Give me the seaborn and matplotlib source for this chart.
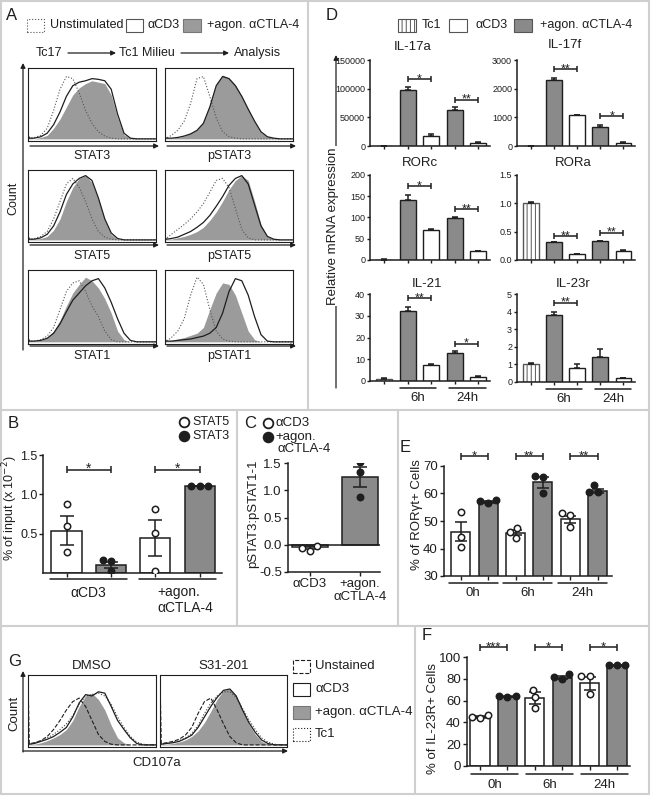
import numpy as np
import pandas as pd
import matplotlib
matplotlib.use("Agg")
import matplotlib.pyplot as plt
import seaborn as sns
from matplotlib.patches import Rectangle, FancyArrowPatch
from matplotlib.lines import Line2D
from matplotlib.transforms import offset_copy

# ---------------- data ----------------
# flow histograms: fluorescence bins (0..1) and counts in % of max
hist_x = [0.0, 0.01, 0.05, 0.10, 0.15, 0.20, 0.25, 0.30, 0.35, 0.40, 0.45,
          0.50, 0.55, 0.60, 0.65, 0.70, 0.75, 0.80, 0.85, 0.90, 0.95, 1.0]

stat3_unstim = [6, 1, 2, 5, 15, 40, 70, 88, 85, 65, 40, 22, 10, 4, 1, 0, 0, 0, 0, 0, 0, 0]
stat3_cd3 = [6, 1, 1, 3, 8, 20, 38, 60, 75, 80, 82, 85, 84, 82, 70, 35, 8, 1, 0, 0, 0, 0]
stat3_agon = [6, 1, 0, 2, 5, 15, 28, 45, 62, 72, 78, 82, 80, 78, 62, 30, 6, 1, 0, 0, 0, 0]
pstat3_unstim = [3, 1, 5, 12, 25, 50, 85, 88, 60, 30, 10, 3, 1, 0, 0, 0, 0, 0, 0, 0, 0, 0]
pstat3_cd3 = [3, 1, 1, 2, 4, 7, 12, 22, 45, 75, 88, 85, 75, 60, 42, 25, 10, 3, 1, 0, 0, 0]
pstat3_agon = [3, 1, 1, 2, 4, 8, 13, 24, 47, 77, 90, 86, 76, 60, 42, 24, 9, 3, 1, 0, 0, 0]
stat5_unstim = [6, 1, 2, 5, 12, 30, 55, 80, 88, 75, 55, 30, 12, 4, 1, 0, 0, 0, 0, 0, 0, 0]
stat5_cd3 = [6, 1, 1, 3, 8, 20, 40, 65, 80, 88, 92, 85, 60, 30, 10, 2, 0, 0, 0, 0, 0, 0]
stat5_agon = [6, 1, 1, 2, 5, 14, 30, 55, 75, 88, 92, 82, 58, 28, 8, 1, 0, 0, 0, 0, 0, 0]
pstat5_unstim = [4, 2, 8, 15, 22, 30, 40, 52, 68, 85, 88, 75, 45, 15, 3, 0, 0, 0, 0, 0, 0, 0]
pstat5_cd3 = [4, 1, 2, 4, 8, 12, 18, 25, 35, 48, 62, 78, 88, 92, 80, 50, 20, 5, 1, 0, 0, 0]
pstat5_agon = [4, 1, 1, 3, 5, 8, 12, 18, 28, 40, 55, 72, 85, 92, 85, 55, 22, 5, 1, 0, 0, 0]
stat1_unstim = [6, 1, 1, 3, 8, 20, 45, 70, 82, 85, 70, 50, 35, 15, 3, 0, 0, 0, 0, 0, 0, 0]
stat1_cd3 = [6, 1, 1, 2, 5, 12, 25, 42, 58, 68, 78, 85, 88, 75, 55, 32, 12, 2, 0, 0, 0, 0]
stat1_agon = [6, 1, 1, 2, 6, 15, 30, 50, 68, 80, 90, 85, 75, 60, 40, 15, 3, 0, 0, 0, 0, 0]
pstat1_unstim = [4, 1, 6, 15, 32, 65, 90, 80, 45, 15, 4, 1, 0, 0, 0, 0, 0, 0, 0, 0, 0, 0]
pstat1_cd3 = [4, 1, 1, 2, 3, 4, 6, 8, 12, 20, 40, 70, 88, 85, 65, 35, 10, 1, 0, 0, 0, 0]
pstat1_agon = [4, 1, 2, 4, 6, 9, 12, 20, 45, 68, 82, 80, 65, 40, 15, 3, 0, 0, 0, 0, 0, 0]

dmso_unstained = [100, 2, 3, 6, 12, 22, 35, 50, 62, 67, 55, 35, 15, 5, 1, 0, 0, 0, 0, 0, 0, 0]
dmso_cd3 = [2, 1, 2, 5, 8, 12, 18, 25, 40, 60, 72, 70, 76, 74, 55, 35, 22, 10, 2, 0, 0, 0]
dmso_agon = [2, 1, 1, 3, 6, 10, 15, 22, 35, 55, 70, 74, 65, 50, 28, 10, 3, 0, 0, 0, 0, 0]
dmso_tc1 = [2, 1, 3, 6, 10, 15, 22, 30, 42, 58, 70, 72, 74, 70, 58, 40, 25, 12, 4, 1, 0, 0]
s31_unstained = [100, 2, 3, 5, 8, 14, 25, 45, 62, 67, 50, 30, 12, 3, 0, 0, 0, 0, 0, 0, 0, 0]
s31_cd3 = [2, 1, 2, 3, 5, 9, 14, 25, 40, 55, 68, 78, 80, 70, 50, 32, 18, 7, 2, 0, 0, 0]
s31_agon = [2, 1, 1, 2, 4, 7, 12, 20, 32, 48, 65, 78, 80, 70, 50, 30, 15, 5, 1, 0, 0, 0]
s31_tc1 = [2, 1, 2, 4, 6, 10, 16, 28, 45, 60, 70, 76, 76, 68, 52, 36, 22, 10, 4, 1, 0, 0]

# panel D: relative mRNA expression
d_groups = ["Tc1", "agon 6h", "aCD3 6h", "agon 24h", "aCD3 24h"]
il17a_mean = [300, 98000, 17000, 63000, 5000]
il17a_err = [0, 5500, 3500, 4500, 1200]
il17f_mean = [5, 2300, 1080, 660, 110]
il17f_err = [0, 80, 0, 80, 20]
rorc_mean = [1, 140, 70, 98, 22]
rorc_err = [0.5, 12, 3, 4, 0]
rora_mean = [1.0, 0.31, 0.10, 0.33, 0.16]
rora_err = [0.03, 0.01, 0.0, 0.01, 0.01]
il21_mean = [1.0, 32, 7.5, 12.8, 1.8]
il21_err = [0.3, 2.2, 0.5, 0.8, 0.6]
il23r_mean = [1.0, 3.8, 0.8, 1.4, 0.22]
il23r_err = [0.1, 0.15, 0.2, 0.45, 0.02]

# panel B: ChIP, % of input (x10^-2)
b_groups = ["aCD3 STAT5", "aCD3 STAT3", "agon STAT5", "agon STAT3"]
b_mean = [0.54, 0.10, 0.45, 1.10]
b_sem = [0.18, 0.04, 0.23, 0.0]
b_stat5_points = {"aCD3 STAT5": [0.88, 0.60, 0.27], "agon STAT5": [0.81, 0.51, 0.02]}
b_stat3_points = {"aCD3 STAT3": [0.16, 0.15, 0.03], "agon STAT3": [1.10, 1.10, 1.10]}

# panel C: pSTAT3:pSTAT1 - 1
c_groups = ["aCD3", "agon"]
c_mean = [-0.05, 1.24]
c_sem = [0.02, 0.18]
c_cd3_points = [-0.02, -0.06, -0.11]
c_agon_points = [1.52, 1.33, 0.87]

# panels E / F: time course, white = aCD3, gray = +agon. aCTLA-4
t_groups = ["0h aCD3", "0h agon", "6h aCD3", "6h agon", "24h aCD3", "24h agon"]
e_mean = [46.1, 56.8, 45.8, 64.1, 50.6, 61.0]
e_sem = [3.5, 0.3, 1.0, 2.0, 1.4, 0.8]
e_points = [[53.3, 44.3, 40.7], [57.8, 57.2, 56.6], [47.5, 46.0, 44.0],
            [66.2, 66.0, 60.2], [52.8, 52.2, 48.0], [63.0, 60.6, 60.4]]
f_mean = [45.0, 63.5, 62.0, 81.0, 76.0, 92.4]
f_sem = [0.8, 0.4, 5.5, 1.3, 6.0, 0.2]
f_points = [[46.5, 45.0, 44.0], [64.5, 63.8, 63.2], [70.0, 63.0, 53.5],
            [84.0, 81.5, 79.5], [83.0, 83.0, 66.0], [92.5, 92.5, 92.5]]

# ---------------- style ----------------
sns.set_theme(style="ticks")
plt.rcParams["font.family"] = ["Liberation Sans", "DejaVu Sans"]
plt.rcParams["hatch.linewidth"] = 0.7
plt.rcParams["axes.linewidth"] = 1.0

INK = "#1e1e1e"
BARGRAY = "#8a8a8a"
HFILL = "#9b9b9b"
SEP = "#cfcfcf"

W, H = 652, 799
fig = plt.figure(figsize=(W / 100, H / 100), dpi=100)


def add_ax(x0, y0, x1, y1):
    return fig.add_axes([x0 / W, 1 - y1 / H, (x1 - x0) / W, (y1 - y0) / H])


def ftext(x, y, s, **kw):
    kw.setdefault("color", INK)
    return fig.text(x / W, 1 - y / H, s, **kw)


def fline(xs, ys, **kw):
    kw.setdefault("color", INK)
    fig.add_artist(Line2D([x / W for x in xs], [1 - y / H for y in ys],
                          transform=fig.transFigure, **kw))


def fbox(x0, y0, x1, y1, **kw):
    fig.add_artist(Rectangle((x0 / W, 1 - y1 / H), (x1 - x0) / W, (y1 - y0) / H,
                             transform=fig.transFigure, **kw))


def farrow(x0, y0, x1, y1, lw=0.9):
    fig.add_artist(FancyArrowPatch((x0 / W, 1 - y0 / H), (x1 / W, 1 - y1 / H),
                                   transform=fig.transFigure, arrowstyle="-|>",
                                   mutation_scale=7, lw=lw, color=INK,
                                   shrinkA=0, shrinkB=0))


def fmarker(x, y, filled):
    fig.add_artist(Line2D([x / W], [1 - y / H], transform=fig.transFigure,
                          marker="o", ms=7, mec=INK, mew=1.3,
                          mfc=INK if filled else "white", ls="none"))


# panel separators
fbox(1, 1, 649, 794, fill=False, ec=SEP, lw=1.5)
fline([308, 308], [1, 410], color=SEP, lw=1.5)
fline([1, 649], [410, 410], color=SEP, lw=1.5)
fline([237, 237], [410, 626], color=SEP, lw=1.5)
fline([398, 398], [410, 626], color=SEP, lw=1.5)
fline([1, 649], [626, 626], color=SEP, lw=1.5)
fline([415, 415], [626, 794], color=SEP, lw=1.5)


# ---------------- histogram helper ----------------
def draw_hist(ax, fill_vals, lines):
    ax.fill_between(hist_x, fill_vals, color=HFILL, lw=0)
    for vals, color, lw, ls in lines:
        sns.lineplot(x=hist_x, y=vals, ax=ax, color=color, lw=lw, linestyle=ls)
    ax.set_xlim(0, 1)
    ax.set_ylim(-3, 100)
    ax.set_xticks([])
    ax.set_yticks([])
    ax.set_xlabel("")
    ax.set_ylabel("")
    for s in ax.spines.values():
        s.set_linewidth(0.8)
        s.set_color(INK)


# ---------------- panel A ----------------
ftext(12, 15, "A", fontsize=12, va="center", ha="center")
fbox(27, 19, 44, 32, fc="white", ec="#555555", lw=0.8, ls=":")
ftext(50, 25, "Unstimulated", fontsize=9, va="center")
fbox(126, 19, 143, 32, fc="white", ec="#555555", lw=0.8)
ftext(148, 25, "αCD3", fontsize=9, va="center")
fbox(183, 19, 201, 32, fc=HFILL, ec="#777777", lw=0.8)
ftext(207, 25, "+agon. αCTLA-4", fontsize=9, va="center")

ftext(49, 53, "Tc17", fontsize=9, va="center", ha="center")
farrow(68, 53, 116, 53)
ftext(147, 53, "Tc1 Milieu", fontsize=9, va="center", ha="center")
farrow(181, 53, 229, 53)
ftext(258, 53, "Analysis", fontsize=9, va="center", ha="center")

a_rows = [(68, 141), (170, 242), (270, 344)]
a_cols = [(28, 156), (165, 293)]
a_label_y = [156, 256, 356]
a_arrow_y = [146, 245, 346]
a_names = [("STAT3", "pSTAT3"), ("STAT5", "pSTAT5"), ("STAT1", "pSTAT1")]
a_data = [
    [(stat3_unstim, stat3_cd3, stat3_agon), (pstat3_unstim, pstat3_cd3, pstat3_agon)],
    [(stat5_unstim, stat5_cd3, stat5_agon), (pstat5_unstim, pstat5_cd3, pstat5_agon)],
    [(stat1_unstim, stat1_cd3, stat1_agon), (pstat1_unstim, pstat1_cd3, pstat1_agon)],
]
for r, (y0, y1) in enumerate(a_rows):
    for c, (x0, x1) in enumerate(a_cols):
        unstim, cd3, agon = a_data[r][c]
        ax = add_ax(x0, y0, x1, y1)
        draw_hist(ax, agon, [(unstim, "#555555", 0.8, ":"), (cd3, INK, 0.9, "-")])
        farrow(x0 + 2, a_arrow_y[r], x1 + 3, a_arrow_y[r])
        ftext((x0 + x1) / 2, a_label_y[r], a_names[r][c], fontsize=9, ha="center", va="center")
farrow(23, 350, 23, 63)
ftext(13, 198, "Count", fontsize=9, rotation=90, ha="center", va="center")


# ---------------- bar helpers ----------------
def bar_panel(ax, cats, means, colors, width, lw=1.1):
    pal = dict(zip(cats, colors))
    sns.barplot(x=cats, y=means, hue=cats, palette=pal, order=cats, legend=False,
                width=width, saturation=1, edgecolor=INK, linewidth=lw,
                errorbar=None, ax=ax)


def add_err(ax, means, errs, upper_only=False, capsize=3):
    n = len(means)
    yerr = [[0] * n, errs] if upper_only else errs
    ax.errorbar(list(range(n)), means, yerr=yerr, fmt="none", ecolor=INK,
                elinewidth=1.1, capsize=capsize, capthick=1.1, zorder=3)


def add_points(ax, cats, point_map, filled, size=4.6):
    rows = [(k, v) for k, vals in point_map.items() for v in vals]
    df = pd.DataFrame(rows, columns=["cat", "val"])
    sns.swarmplot(data=df, x="cat", y="val", order=cats, ax=ax, size=size,
                  color=INK if filled else "white", edgecolor=INK, linewidth=1.1,
                  zorder=4)


def style_axes(ax, xlim, ylim, yticks, yticklabels, fs):
    ax.set_xlim(*xlim)
    ax.set_ylim(*ylim)
    ax.set_yticks(yticks)
    ax.set_yticklabels(yticklabels, fontsize=fs, color=INK)
    ax.set_xlabel("")
    ax.set_ylabel("")
    sns.despine(ax=ax)
    for s in ("left", "bottom"):
        ax.spines[s].set_linewidth(1.1)
        ax.spines[s].set_color(INK)
    ax.tick_params(axis="both", length=3, width=1, color=INK, pad=1.5)


def bracket(ax, i, j, y, label, fs=9, cap_px=3.5):
    y0, y1 = ax.get_ylim()
    hp = ax.get_position().height * H
    cap = cap_px * (y1 - y0) / hp
    kw = dict(color=INK, lw=1.1, clip_on=False, solid_capstyle="butt")
    ax.plot([i, j], [y, y], **kw)
    ax.plot([i, i], [y - cap, y + cap], **kw)
    ax.plot([j, j], [y - cap, y + cap], **kw)
    ax.annotate(label, xy=((i + j) / 2, y), xytext=(0, -2.2), textcoords="offset points",
                ha="center", va="baseline", fontsize=fs, color=INK, annotation_clip=False)


def group_line(ax, x0, x1, label, fs, line_dy=7, text_dy=17):
    tr = offset_copy(ax.get_xaxis_transform(), fig=fig, y=-line_dy, units="dots")
    ax.plot([x0, x1], [0, 0], color=INK, lw=1.1, transform=tr, clip_on=False)
    if label:
        trt = offset_copy(ax.get_xaxis_transform(), fig=fig, y=-text_dy, units="dots")
        ax.text((x0 + x1) / 2, 0, label, transform=trt, ha="center", va="center",
                fontsize=fs, color=INK)


# ---------------- panel D ----------------
ftext(332, 15, "D", fontsize=12, va="center", ha="center")
fbox(398, 19, 416, 32, fc="white", ec="#555555", lw=0.8, hatch="||||")
ftext(422, 25, "Tc1", fontsize=9, va="center")
fbox(449, 19, 467, 32, fc="white", ec="#555555", lw=0.8)
ftext(475, 25, "αCD3", fontsize=9, va="center")
fbox(514, 19, 532, 32, fc=BARGRAY, ec="#555555", lw=0.8)
ftext(540, 25, "+agon. αCTLA-4", fontsize=9, va="center")

d_colors = ["white", BARGRAY, "white", BARGRAY, "white"]
d_panels = [
    ("IL-17a", il17a_mean, il17a_err, (0, 150000), [0, 50000, 100000, 150000],
     ["0", "50000", "100000", "150000"], [(1, 2, 116000, "*"), (3, 4, 81000, "**")],
     (370, 60, 490, 146), (413, 47)),
    ("IL-17f", il17f_mean, il17f_err, (0, 3000), [0, 1000, 2000, 3000],
     ["0", "1000", "2000", "3000"], [(1, 2, 2680, "**"), (3, 4, 1040, "*")],
     (517, 60, 635, 146), (565, 45)),
    ("RORc", rorc_mean, rorc_err, (0, 200), [0, 50, 100, 150, 200],
     ["0", "50", "100", "150", "200"], [(1, 2, 174, "*"), (3, 4, 119, "**")],
     (370, 175, 490, 260), (420, 163)),
    ("RORa", rora_mean, rora_err, (0, 1.5), [0, 0.5, 1.0, 1.5],
     ["0.0", "0.5", "1.0", "1.5"], [(1, 2, 0.42, "**"), (3, 4, 0.48, "**")],
     (517, 175, 635, 260), (573, 163)),
    ("IL-21", il21_mean, il21_err, (0, 40), [0, 10, 20, 30, 40],
     ["0", "10", "20", "30", "40"], [(1, 2, 38, "**"), (3, 4, 17.2, "*")],
     (370, 294, 490, 381), (427, 284)),
    ("IL-23r", il23r_mean, il23r_err, (0, 5), [0, 1, 2, 3, 4, 5],
     ["0", "1", "2", "3", "4", "5"], [(1, 2, 4.5, "**")],
     (517, 294, 635, 382), (573, 284)),
]
for k, (name, means, errs, ylim, yt, ytl, sigs, box, tpos) in enumerate(d_panels):
    ax = add_ax(*box)
    bar_panel(ax, d_groups, means, d_colors, 0.68, lw=1.0)
    ax.patches[0].set_hatch("||||")
    ax.patches[0].set_edgecolor("#555555")
    add_err(ax, means, errs, upper_only=True, capsize=2.5)
    style_axes(ax, (-0.6, 4.5), ylim, yt, ytl, 6.5)
    ax.set_xticks(range(5))
    ax.set_xticklabels([])
    ax.tick_params(length=2.5, pad=1)
    for i, j, y, lab in sigs:
        bracket(ax, i, j, y, lab, fs=9, cap_px=3)
    ftext(tpos[0], tpos[1], name, fontsize=9.5, ha="center", va="center")
    if k >= 4:
        group_line(ax, 0.66, 2.22, "6h", 9.5)
        group_line(ax, 2.77, 4.33, "24h", 9.5)

farrow(336, 388, 336, 55)
ftext(333, 226, "Relative mRNA expression", fontsize=9.5, rotation=90, ha="center",
      va="center", bbox=dict(fc="white", ec="none", pad=1))

# ---------------- panel B ----------------
ftext(13, 423, "B", fontsize=12, ha="center", va="center")
fmarker(184, 422, False)
ftext(192, 422, "STAT5", fontsize=9, va="center")
fmarker(184, 436, True)
ftext(192, 436, "STAT3", fontsize=9, va="center")

ax = add_ax(43, 455, 222, 573)
bar_panel(ax, b_groups, b_mean, ["white", BARGRAY, "white", BARGRAY], 0.68)
add_err(ax, b_mean, b_sem, capsize=5)
add_points(ax, b_groups, b_stat5_points, filled=False)
add_points(ax, b_groups, b_stat3_points, filled=True)
style_axes(ax, (-0.53, 3.5), (0, 1.5), [0.5, 1.0, 1.5], ["0.5", "1.0", "1.5"], 9)
ax.tick_params(axis="y", pad=1)
ax.set_xticks(range(4))
ax.set_xticklabels([])
bracket(ax, 0, 1, 1.31, "*", fs=10)
bracket(ax, 2, 3, 1.31, "*", fs=10)
group_line(ax, -0.38, 1.37, "αCD3", 10, line_dy=6, text_dy=20)
group_line(ax, 1.64, 3.37, "", 10, line_dy=6)
ftext(157, 600, "+agon.\nαCTLA-4", fontsize=10, ha="left", va="center", linespacing=1.1)
ftext(10, 508, "% of input (x 10$^{-2}$)", fontsize=9, rotation=90, ha="center", va="center")

# ---------------- panel C ----------------
ftext(250, 423, "C", fontsize=12, ha="center", va="center")
fmarker(268, 423, False)
ftext(275, 423, "αCD3", fontsize=9.5, va="center")
fmarker(268, 437, True)
ftext(275, 437, "+agon.", fontsize=9.5, va="center")
ftext(277, 449, "αCTLA-4", fontsize=9.5, va="center")

ax = add_ax(288, 463, 380, 572)
bar_panel(ax, c_groups, c_mean, ["white", BARGRAY], 0.72)
ax.axhline(0, color=INK, lw=1.1, zorder=2)
add_err(ax, c_mean, c_sem, capsize=5)
add_points(ax, c_groups, {"aCD3": c_cd3_points}, filled=False)
add_points(ax, c_groups, {"agon": c_agon_points}, filled=True)
style_axes(ax, (-0.44, 1.4), (-0.5, 1.5), [-0.5, 0.0, 0.5, 1.0, 1.5],
           ["-0.5", "0.0", "0.5", "1.0", "1.5"], 9.5)
ax.set_xticks(range(2))
ax.set_xticklabels(["αCD3", "+agon.\nαCTLA-4"], fontsize=9.5, color=INK, linespacing=1.1,
                   va="top")
ftext(253, 514, "pSTAT3:pSTAT1-1", fontsize=9.5, rotation=90, ha="center", va="center")

# ---------------- panel E ----------------
t_colors = ["white", BARGRAY] * 3
ftext(405, 448, "E", fontsize=12, ha="center", va="center")
ax = add_ax(444, 466, 612, 576)
bar_panel(ax, t_groups, e_mean, t_colors, 0.7)
add_err(ax, e_mean, e_sem, capsize=4)
add_points(ax, t_groups, {t_groups[i]: e_points[i] for i in (0, 2, 4)}, filled=False)
add_points(ax, t_groups, {t_groups[i]: e_points[i] for i in (1, 3, 5)}, filled=True)
style_axes(ax, (-0.62, 5.53), (30, 70), [30, 40, 50, 60, 70],
           ["30", "40", "50", "60", "70"], 9.5)
ax.set_xticks(range(6))
ax.set_xticklabels([])
for i, lab in zip((0, 2, 4), ("*", "**", "**")):
    bracket(ax, i, i + 1, 73.6, lab, fs=9.5)
for i, lab in zip((0, 2, 4), ("0h", "6h", "24h")):
    group_line(ax, i - 0.45, i + 1.35, lab, 9.5)
ftext(417, 515, "% of RORγt+ Cells", fontsize=9.5, rotation=90, ha="center", va="center")

# ---------------- panel F ----------------
ftext(427, 636, "F", fontsize=12, ha="center", va="center")
ax = add_ax(467, 657, 630, 766)
bar_panel(ax, t_groups, f_mean, t_colors, 0.7)
add_err(ax, f_mean, f_sem, capsize=4)
add_points(ax, t_groups, {t_groups[i]: f_points[i] for i in (0, 2, 4)}, filled=False)
add_points(ax, t_groups, {t_groups[i]: f_points[i] for i in (1, 3, 5)}, filled=True)
style_axes(ax, (-0.47, 5.47), (0, 100), [0, 20, 40, 60, 80, 100],
           ["0", "20", "40", "60", "80", "100"], 9.5)
ax.set_xticks(range(6))
ax.set_xticklabels([])
for i, lab in zip((0, 2, 4), ("***", "*", "*")):
    bracket(ax, i, i + 1, 109, lab, fs=9.5)
for i, lab in zip((0, 2, 4), ("0h", "6h", "24h")):
    group_line(ax, i - 0.33, i + 1.4, lab, 9.5, line_dy=8, text_dy=19)
ftext(433, 718, "% of IL-23R+ Cells", fontsize=9.5, rotation=90, ha="center", va="center")

# ---------------- panel G ----------------
ftext(15, 661, "G", fontsize=12, ha="center", va="center")
g_boxes = [(28, 156), (160, 287)]
g_titles = ["DMSO", "S31-201"]
g_data = [(dmso_unstained, dmso_cd3, dmso_agon, dmso_tc1),
          (s31_unstained, s31_cd3, s31_agon, s31_tc1)]
for (x0, x1), title, (unst, cd3, agon, tc1) in zip(g_boxes, g_titles, g_data):
    ax = add_ax(x0, 675, x1, 747)
    draw_hist(ax, agon, [(unst, INK, 0.8, "--"), (tc1, "#444444", 0.8, ":"),
                         (cd3, INK, 0.9, "-")])
    ftext((x0 + x1) / 2, 666, title, fontsize=9.5, ha="center", va="center")
farrow(23, 751, 288, 751)
farrow(23, 752, 23, 671)
ftext(157, 763, "CD107a", fontsize=9.5, ha="center", va="center")
ftext(14, 713, "Count", fontsize=9.5, rotation=90, ha="center", va="center")

g_leg = [("Unstained", dict(fc="white", ec=INK, ls="--")),
         ("αCD3", dict(fc="white", ec=INK)),
         ("+agon. αCTLA-4", dict(fc=HFILL, ec="#777777")),
         ("Tc1", dict(fc="white", ec=INK, ls=":"))]
for (lab, kw), yc in zip(g_leg, [666, 689, 712, 734]):
    fbox(293, yc - 6.5, 310, yc + 6.5, lw=0.8, **kw)
    ftext(315, yc, lab, fontsize=9.5, va="center")

fig.savefig("out.png", dpi=100, facecolor="white")
